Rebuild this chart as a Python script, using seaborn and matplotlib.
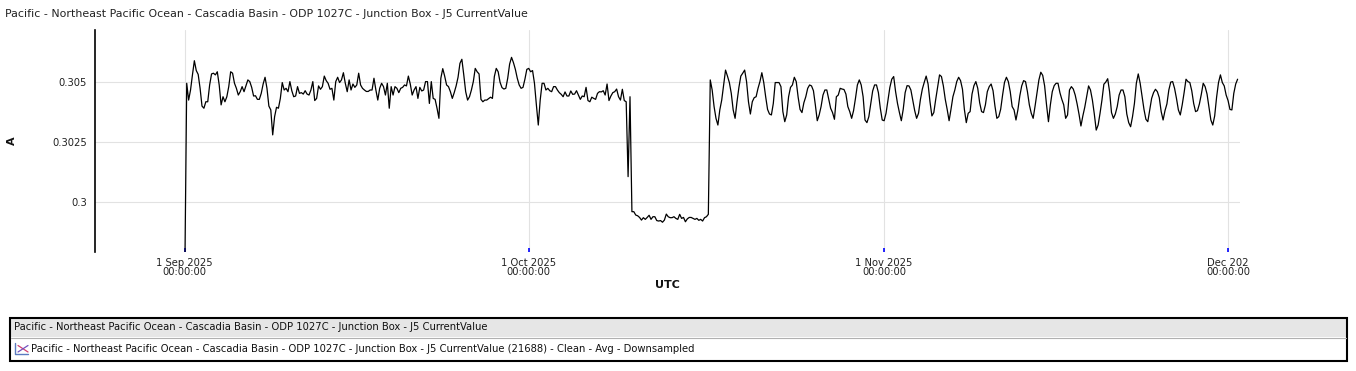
import numpy as np
import pandas as pd
import matplotlib
matplotlib.use("Agg")
import matplotlib.pyplot as plt
import seaborn as sns
from matplotlib.lines import Line2D
from matplotlib.patches import Rectangle

TITLE = "Pacific - Northeast Pacific Ocean - Cascadia Basin - ODP 1027C - Junction Box - J5 CurrentValue"
LEGEND_HEADER = TITLE
LEGEND_ENTRY = TITLE + " (21688) - Clean - Avg - Downsampled"
X_LABEL = "UTC"
Y_LABEL = "A"

START = "2025-09-01 00:00"
STEP = "4h"

# current readings in mA, one every 4 hours
current_ma_sep01_sep16 = [
    297.00, 304.96, 304.26, 304.68, 305.31, 305.90, 305.49, 305.33, 304.75, 304.01,
    303.92, 304.19, 304.19, 304.89, 305.35, 305.38, 305.31, 305.44, 304.89, 304.06,
    304.40, 304.19, 304.40, 304.82, 305.44, 305.38, 304.96, 304.75, 304.47, 304.61,
    304.82, 304.61, 304.85, 305.10, 305.03, 304.79, 304.43, 304.44, 304.29, 304.29,
    304.54, 304.93, 305.21, 304.75, 304.01, 303.85, 302.81, 303.57, 303.96, 303.92,
    304.33, 304.99, 304.68, 304.75, 304.61, 305.03, 304.65, 304.40, 304.43, 304.82,
    304.54, 304.57, 304.51, 304.65, 304.51, 304.47, 304.68, 305.03, 304.24, 304.33,
    304.85, 304.71, 304.82, 305.26, 305.07, 304.96, 304.71, 304.75, 304.26, 305.03,
    305.21, 304.99, 305.10, 305.40, 304.96, 304.61, 305.10, 304.68, 304.93, 304.79,
    304.89, 305.38,
]
current_ma_sep16_oct01 = [
    304.89, 304.75, 304.68, 304.62, 304.62, 304.68, 304.68, 305.17, 304.68, 304.26,
    304.75, 304.96, 304.82, 304.47, 304.96, 303.92, 304.82, 304.47, 304.82, 304.75,
    304.57, 304.75, 304.79, 304.89, 304.85, 305.26, 304.93, 304.47, 304.68, 304.82,
    304.33, 304.79, 304.64, 304.68, 305.03, 305.03, 304.12, 305.03, 304.33, 304.29,
    303.92, 303.50, 305.17, 305.57, 305.26, 304.89, 304.82, 304.61, 304.33, 304.57,
    304.85, 305.21, 305.79, 305.96, 305.31, 304.61, 304.26, 304.40, 304.68, 305.03,
    305.58, 305.44, 305.35, 304.29, 304.19, 304.26, 304.26, 304.32, 304.38, 304.33,
    305.24, 305.58, 305.44, 305.00, 304.78, 304.72, 304.75, 305.17, 305.76, 306.04,
    305.82, 305.54, 305.17, 304.89, 304.75, 304.79, 305.13, 305.54, 305.58, 305.44,
    305.49, 304.96, 304.06, 303.22,
]
current_ma_oct02_oct16 = [
    304.26, 304.96, 304.96, 304.68, 304.75, 304.65, 304.61, 304.82, 304.82, 304.68,
    304.57, 304.50, 304.40, 304.60, 304.43, 304.43, 304.64, 304.50, 304.51, 304.65,
    304.47, 304.29, 304.43, 304.40, 304.79, 304.24, 304.19, 304.38, 304.33, 304.29,
    304.54, 304.61, 304.60, 304.65, 304.47, 304.93, 304.24, 304.43, 304.57, 304.61,
    304.72, 304.40, 304.26, 304.71, 304.24, 304.19, 301.07, 304.40, 299.61, 299.61,
    299.47, 299.44, 299.37, 299.26, 299.36, 299.29, 299.37, 299.46, 299.29, 299.40,
    299.40, 299.24, 299.22, 299.24, 299.17, 299.26, 299.51, 299.40, 299.36, 299.36,
    299.40, 299.33, 299.29, 299.50, 299.33, 299.37, 299.19, 299.31, 299.37, 299.37,
    299.33, 299.29, 299.33, 299.25, 299.29, 299.22, 299.36, 299.40, 299.50,
]
current_ma_oct16_nov01 = [
    305.10, 304.68, 303.99, 303.50, 303.22, 303.85, 304.26, 304.89, 305.51, 305.26,
    304.99, 304.54, 303.85, 303.50, 304.19, 304.79, 305.26, 305.38, 305.51, 305.03,
    304.19, 303.68, 304.19, 304.36, 304.40, 304.75, 305.03, 305.40, 304.99, 304.40,
    303.87, 303.68, 303.64, 304.12, 304.99, 304.99, 304.99, 304.82, 303.78, 303.36,
    303.64, 304.40, 304.79, 304.89, 305.21, 305.03, 304.38, 303.87, 303.74, 304.15,
    304.40, 304.75, 304.89, 304.85, 304.65, 304.06, 303.40, 303.64, 303.99, 304.47,
    304.68, 304.68, 304.29, 303.92, 303.74, 303.46, 304.40, 304.47, 304.75, 304.72,
    304.70, 304.51, 303.99, 303.78, 303.50, 303.82, 304.33, 304.89, 305.10, 304.89,
    304.40, 303.43, 303.32, 303.57, 304.12, 304.64, 304.89, 304.89, 304.57, 303.92,
    303.43, 303.40, 303.71, 304.26,
]
current_ma_nov01_nov17 = [
    304.79, 305.13, 305.24, 304.61, 304.12, 303.74, 303.40, 303.88, 304.57, 304.86,
    304.85, 304.68, 304.26, 303.82, 303.50, 303.71, 304.29, 304.72, 305.00, 305.26,
    304.93, 304.19, 303.60, 303.74, 304.29, 304.79, 305.31, 305.24, 304.85, 304.29,
    303.87, 303.40, 303.88, 304.40, 304.68, 305.03, 305.21, 305.07, 304.71, 303.87,
    303.32, 303.71, 303.78, 304.51, 304.86, 305.03, 304.75, 304.15, 303.78, 303.74,
    304.06, 304.61, 304.82, 304.93, 304.65, 304.01, 303.50, 303.57, 303.88, 304.47,
    305.00, 305.21, 305.03, 304.61, 303.99, 303.85, 303.43, 303.85, 304.43, 304.85,
    305.07, 305.03, 304.61, 304.06, 303.71, 303.50, 304.01, 304.57, 305.10, 305.42,
    305.29, 304.85, 304.06, 303.36, 304.06, 304.61, 304.86, 304.96, 304.96, 304.57,
    304.29, 304.06, 303.50, 303.64,
]
current_ma_nov17_dec01 = [
    304.68, 304.82, 304.72, 304.47, 304.10, 303.67, 303.18, 303.60, 303.96, 304.40,
    304.85, 304.68, 304.26, 303.68, 303.01, 303.22, 303.71, 304.26, 304.92, 305.01,
    305.15, 304.61, 303.74, 303.50, 303.68, 303.99, 304.47, 304.68, 304.68, 304.40,
    303.68, 303.32, 303.15, 303.57, 304.12, 304.96, 305.35, 304.96, 304.43, 303.87,
    303.46, 303.36, 303.85, 304.33, 304.57, 304.71, 304.61, 304.36, 303.78, 303.43,
    303.82, 304.10, 304.68, 305.01, 305.03, 304.75, 304.33, 303.85, 303.64, 304.06,
    304.57, 305.13, 305.03, 304.99, 304.65, 304.12, 303.78, 303.82, 304.10, 304.50,
    304.96, 304.82, 304.51, 303.96, 303.43, 303.22, 303.60, 304.38, 304.99, 305.31,
    304.99, 304.85, 304.47, 304.24, 303.87, 303.85, 304.54, 304.93, 305.13,
]

y_ticks = [0.3, 0.3025, 0.305]
y_tick_labels = ["0.3", "0.3025", "0.305"]
x_ticks = ["2025-09-01", "2025-10-01", "2025-11-01", "2025-12-01"]
x_tick_labels = ["1 Sep 2025\n00:00:00", "1 Oct 2025\n00:00:00",
                 "1 Nov 2025\n00:00:00", "Dec 202\n00:00:00"]

values_ma = np.concatenate([
    current_ma_sep01_sep16, current_ma_sep16_oct01, current_ma_oct02_oct16,
    current_ma_oct16_nov01, current_ma_nov01_nov17, current_ma_nov17_dec01,
])
times = pd.date_range(START, periods=len(values_ma), freq=STEP)
df = pd.DataFrame({"UTC": times, "A": values_ma / 1000.0})

sns.set_theme(style="white")
plt.rcParams["font.family"] = ["DejaVu Sans"]

W, H = 1356, 371
fig = plt.figure(figsize=(W / 100, H / 100), dpi=100)
fig.patch.set_facecolor("white")


def fx(px):
    return px / W


def fy(py):
    return 1 - py / H


ax = fig.add_axes([fx(95), fy(252), (1240 - 95) / W, (252 - 30) / H])
ax.set_facecolor("white")
sns.lineplot(data=df, x="UTC", y="A", ax=ax, color="black", linewidth=0.9,
             estimator=None)

ax.set_xlim(pd.Timestamp("2025-08-24 04:00"), pd.Timestamp("2025-12-02 01:00"))
ax.set_ylim(0.29793, 0.30718)

ax.set_yticks(y_ticks)
ax.set_yticklabels(y_tick_labels)
ax.set_xticks(pd.to_datetime(x_ticks))
ax.set_xticklabels(x_tick_labels, linespacing=0.95)

ax.grid(True, color="#e2e2e2", linewidth=0.8)
ax.set_axisbelow(True)
for s in ["top", "right", "bottom"]:
    ax.spines[s].set_visible(False)
ax.spines["left"].set_color("black")
ax.spines["left"].set_linewidth(1.2)

ax.tick_params(axis="x", direction="in", length=3, width=1.2, color="blue",
               pad=4, labelsize=7.2, labelcolor="#222222", bottom=True)
ax.tick_params(axis="y", length=0, pad=6, labelsize=7.2, labelcolor="#222222")

ax.set_xlabel(X_LABEL, fontweight="bold", fontsize=8, color="#111111")
ax.xaxis.set_label_coords(0.5, -0.125)
ax.set_ylabel(Y_LABEL, fontweight="bold", fontsize=8, color="#111111")
ax.yaxis.set_label_coords(-0.068, 0.5)

fig.text(fx(5), fy(14), TITLE, fontsize=7.9, color="#222222", va="center", ha="left")

# legend panel
fig.add_artist(Rectangle((fx(11), fy(337)), (1346 - 11) / W, 19 / H,
                         transform=fig.transFigure, facecolor="#e6e6e6",
                         edgecolor="none"))
fig.add_artist(Line2D([fx(11), fx(1346)], [fy(337.5), fy(337.5)],
                      transform=fig.transFigure, color="#b0b0b0", lw=0.8))
fig.add_artist(Rectangle((fx(10), fy(361)), (1347 - 10) / W, 43 / H,
                         transform=fig.transFigure, facecolor="none",
                         edgecolor="black", lw=1.5))
fig.text(fx(14), fy(327.5), LEGEND_HEADER, fontsize=8, fontstretch="condensed",
         color="#111111", va="center", ha="left")
fig.text(fx(31), fy(348.5), LEGEND_ENTRY, fontsize=8, fontstretch="condensed",
         color="#111111", va="center", ha="left")
# legend icon
fig.add_artist(Line2D([fx(14.5), fx(14.5), fx(28)], [fy(343), fy(354), fy(354)],
                      transform=fig.transFigure, color="#5b7bc0", lw=1.0))
fig.add_artist(Line2D([fx(18), fx(28)], [fy(345.5), fy(352)],
                      transform=fig.transFigure, color="#d04070", lw=0.9))
fig.add_artist(Line2D([fx(18), fx(28)], [fy(352), fy(345.5)],
                      transform=fig.transFigure, color="#7050c0", lw=0.9))

fig.savefig("out.png", dpi=100, facecolor="white")
